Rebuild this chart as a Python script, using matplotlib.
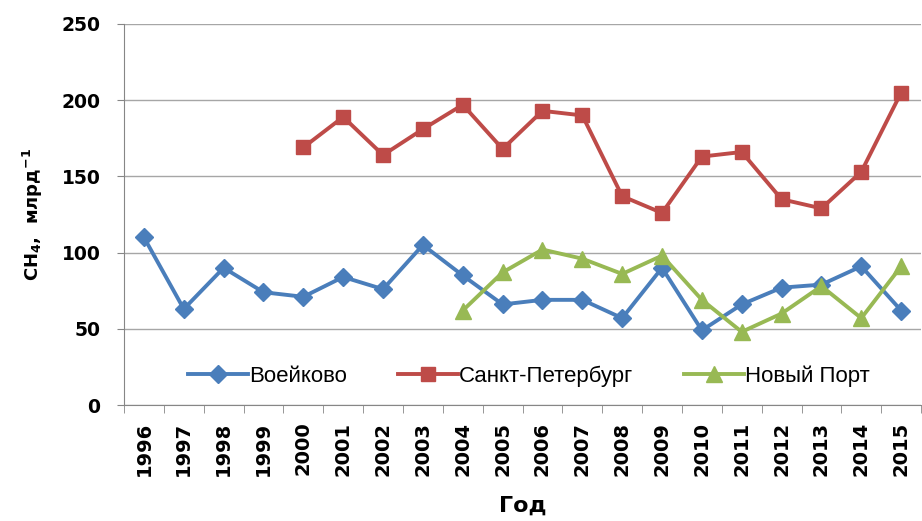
import matplotlib
matplotlib.use("Agg")
import matplotlib.pyplot as plt
import numpy as np

plt.rcParams["mathtext.default"] = "bf"

years = [str(y) for y in range(1996, 2016)]
voeikovo = [110, 63, 90, 74, 71, 84, 76, 105, 85, 66, 69, 69, 57, 90, 49, 66, 77, 79, 91, 62]
spb_years = years[4:]
spb = [169, 189, 164, 181, 197, 168, 193, 190, 137, 126, 163, 166, 135, 129, 153, 205]
np_years = years[8:]
novy_port = [62, 87, 102, 96, 86, 98, 69, 48, 60, 78, 57, 91]

fig = plt.figure(figsize=(9.22, 5.21), dpi=100)
ax = fig.add_axes([0.1345, 0.2226, 0.8645, 0.7314])

x_all = np.arange(len(years))
idx = {y: i for i, y in enumerate(years)}
ax.plot(x_all, voeikovo, color="#4A7EBB", lw=2.8, marker="D", ms=9, label="Воейково", zorder=3)
ax.plot([idx[y] for y in spb_years], spb, color="#BE4B48", lw=2.8, marker="s", ms=10, label="Санкт-Петербург", zorder=3)
ax.plot([idx[y] for y in np_years], novy_port, color="#98B954", lw=2.8, marker="^", ms=11, label="Новый Порт", zorder=3)

ax.set_xlim(-0.5, len(years) - 0.5)
ax.set_ylim(0, 250)
ax.set_yticks(range(0, 251, 50))
ax.yaxis.grid(True, color="#A6A6A6", lw=1)
ax.set_axisbelow(True)
ax.set_xticks(x_all)
ax.set_xticklabels(years, rotation=90, fontsize=14, fontweight="bold")
ax.set_xticks(np.arange(-0.5, len(years), 1), minor=True)
ax.tick_params(axis="x", which="major", length=0, pad=12)
ax.tick_params(axis="x", which="minor", length=6, color="#868686")
ax.tick_params(axis="y", length=5, color="#868686", labelsize=13.5, pad=12)
for lab in ax.get_yticklabels():
    lab.set_fontweight("bold")
for s in ["top", "right"]:
    ax.spines[s].set_visible(False)
for s in ["left", "bottom"]:
    ax.spines[s].set_color("#868686")

ax.set_ylabel("CH$_4$,  млрд$^{-1}$", fontsize=13, fontweight="bold", labelpad=12)
ax.set_xlabel("Год", fontsize=16, fontweight="bold", labelpad=14)

leg = ax.legend(loc="center", bbox_to_anchor=(0.508, 0.075), ncol=3, frameon=False,
                prop={"family": ["Liberation Sans", "DejaVu Sans"], "size": 16},
                handlelength=2.7, columnspacing=2.3, handletextpad=0.05)

fig.savefig("out.png", dpi=100)
